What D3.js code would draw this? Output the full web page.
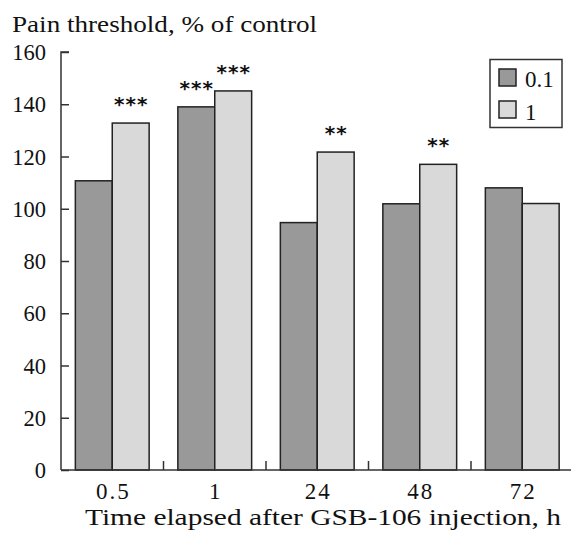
<!DOCTYPE html>
<html>
<head>
<meta charset="utf-8">
<script src="https://cdn.jsdelivr.net/npm/d3@7"></script>
<style>
html,body{margin:0;padding:0;background:#fff;}
svg{display:block;}
text{font-family:"Liberation Serif","Times New Roman",serif;fill:#111;}
text.star{font-family:"DejaVu Sans",sans-serif;fill:#111;font-weight:bold;}
</style>
</head>
<body>
<svg id="chart" width="571" height="533"></svg>
<script>
// ---- data ----
const categories = ["0.5", "1", "24", "48", "72"];
const seriesNames = ["0.1", "1"];
const dose01 = [110.7, 139, 94.7, 101.9, 108];
const dose1 = [132.8, 145.1, 121.7, 117, 102];
const sig01 = ["", "***", "", "", ""];
const sig1 = ["***", "***", "**", "**", ""];
const yTicks = [0, 20, 40, 60, 80, 100, 120, 140, 160];
const yTitle = "Pain threshold, % of control";
const xTitle = "Time elapsed after GSB-106 injection, h";

const colors = ["#999999", "#d9d9d9"];
const series = [dose01, dose1];
const sigs = [sig01, sig1];

const svg = d3.select("#chart");
const margin = {left: 61, right: -2.5, top: 52, bottom: 63};
const W = 571, H = 533;
const x0 = d3.scaleBand().domain(categories)
  .range([margin.left, W - margin.right]).paddingInner(0.28).paddingOuter(0.14);
const x1 = d3.scaleBand().domain(seriesNames).range([0, x0.bandwidth()]);
const y = d3.scaleLinear().domain([0, 160]).range([H - margin.bottom, margin.top]);

// bars
const g = svg.append("g");
const starSpacing = 1;
categories.forEach((c, i) => {
  seriesNames.forEach((s, j) => {
    const v = series[j][i];
    g.append("rect")
      .attr("x", x0(c) + x1(s))
      .attr("y", y(v))
      .attr("width", x1.bandwidth())
      .attr("height", y(0) - y(v))
      .attr("fill", colors[j])
      .attr("stroke", "#222")
      .attr("stroke-width", 1.5);
    const lab = sigs[j][i];
    if (lab) {
      g.append("text").attr("class", "star")
        .attr("x", x0(c) + x1(s) + x1.bandwidth() / 2 + starSpacing / 2)
        .attr("y", y(v) - 12)
        .attr("text-anchor", "middle")
        .attr("font-size", 20)
        .attr("letter-spacing", starSpacing)
        .text(lab);
    }
  });
});

// y axis
const yAxis = d3.axisLeft(y).tickValues(yTicks).tickSize(-8).tickPadding(22).tickFormat(d3.format("d"));
const ya = svg.append("g").attr("transform", `translate(${margin.left},0)`).call(yAxis);
ya.attr("font-family", null);
ya.select(".domain").attr("d", `M0,${y(0)}V${y(160)}H8`).attr("stroke", "#333").attr("stroke-width", 1.5);
ya.selectAll(".tick line").attr("stroke", "#333").attr("stroke-width", 1.5);
ya.selectAll(".tick text").attr("font-size", 22.5).attr("fill", "#111")
  .attr("x", -15).attr("dy", "0.34em");

// x axis line
svg.append("line").attr("x1", margin.left).attr("x2", W).attr("y1", y(0)).attr("y2", y(0))
  .attr("stroke", "#333").attr("stroke-width", 1.5);
// boundary ticks
categories.slice(1).forEach(c => {
  const bx = x0(c) - x0.step() * x0.paddingInner() / 2;
  svg.append("line").attr("x1", bx).attr("x2", bx).attr("y1", y(0)).attr("y2", y(0) - 9)
    .attr("stroke", "#333").attr("stroke-width", 1.5);
});
// x labels
categories.forEach(c => {
  svg.append("text").attr("x", x0(c) + x0.bandwidth() / 2 + 1).attr("y", 499)
    .attr("text-anchor", "middle").attr("font-size", 23).attr("letter-spacing", 2).text(c);
});

// titles
svg.append("text").attr("x", 12).attr("y", 32).attr("font-size", 24)
  .attr("textLength", 305).attr("lengthAdjust", "spacingAndGlyphs").text(yTitle);
svg.append("text").attr("x", 85).attr("y", 525).attr("font-size", 23.5)
  .attr("textLength", 476).attr("lengthAdjust", "spacingAndGlyphs").text(xTitle);

// legend
const leg = svg.append("g");
leg.append("rect").attr("x", 490).attr("y", 59.5).attr("width", 72).attr("height", 68)
  .attr("fill", "#fff").attr("stroke", "#333").attr("stroke-width", 1.5);
seriesNames.forEach((s, j) => {
  leg.append("rect").attr("x", 499).attr("y", 69 + j * 32).attr("width", 17).attr("height", 17)
    .attr("fill", colors[j]).attr("stroke", "#222").attr("stroke-width", 1.5);
  leg.append("text").attr("x", 525).attr("y", 87 + j * 33).attr("font-size", 23).text(s);
});
</script>
</body>
</html>
